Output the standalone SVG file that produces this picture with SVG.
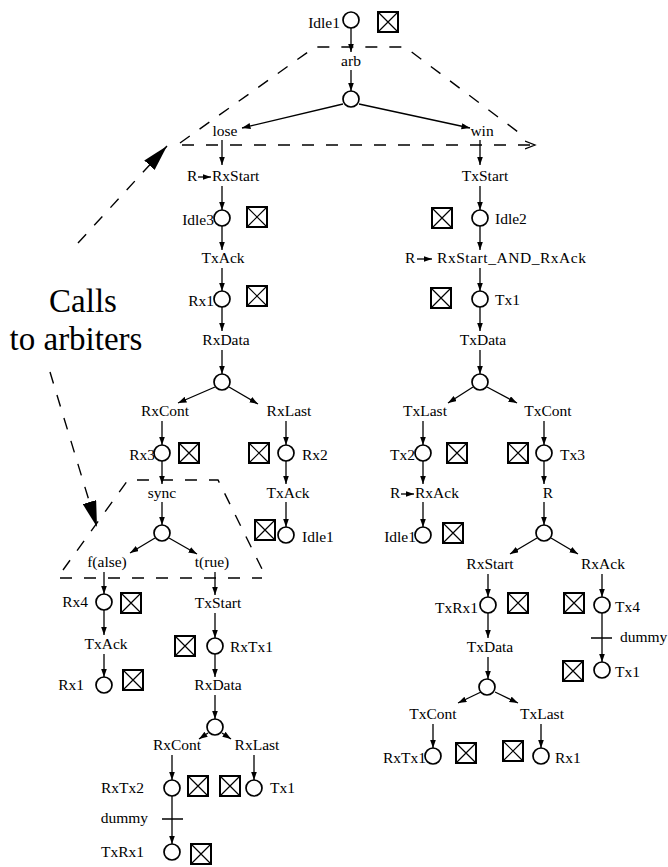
<svg xmlns="http://www.w3.org/2000/svg" width="668" height="867" viewBox="0 0 668 867" font-family="'Liberation Serif', 'DejaVu Serif', serif">
  <style>
    text { font-family: 'Liberation Serif', 'DejaVu Serif', serif; font-size: 15.5px; fill: #000; }
    .big { font-size: 33px; }
    .mid { text-anchor: middle; }
    .end { text-anchor: end; }
    .st { fill: #fff; stroke: #000; stroke-width: 1.7; }
    .e { stroke: #000; stroke-width: 1.3; fill: none; marker-end: url(#ah); }
    .dash { stroke: #000; stroke-width: 1.4; fill: none; stroke-dasharray: 12 12; }
    .bar { stroke: #000; stroke-width: 1.5; }
  </style>
  <defs>
    <marker id="ah" markerUnits="userSpaceOnUse" markerWidth="9" markerHeight="7" refX="8.5" refY="3" orient="auto">
      <path d="M0,0 L8.5,3 L0,6 z" fill="#000"/>
    </marker>
    <marker id="big" markerUnits="userSpaceOnUse" markerWidth="27" markerHeight="14" refX="26" refY="7" orient="auto">
      <path d="M0,0 L26,7 L0,14 z" fill="#000"/>
    </marker>
    <marker id="open" markerUnits="userSpaceOnUse" markerWidth="12" markerHeight="10" refX="10" refY="5" orient="auto">
      <path d="M0,1 L10,5 L0,9" fill="none" stroke="#000" stroke-width="1.3"/>
    </marker>
    <g id="box">
      <rect x="0" y="0" width="20" height="20" fill="#fff" stroke="#000" stroke-width="2"/>
      <path d="M0,0 L20,20 M20,0 L0,20" stroke="#000" stroke-width="1.2"/>
    </g>
  </defs>

  <!-- arbiter call regions -->
  <g id="regions">
    <polyline class="dash" points="180,143 315,47 405,47 522,135"/>
    <line class="dash" x1="182" y1="145" x2="535" y2="145" marker-end="url(#open)"/>
    <polyline class="dash" points="63,570 128,480 218,480 265,575"/>
    <line class="dash" x1="60" y1="578" x2="262" y2="578"/>
    <line class="dash" x1="78" y1="243" x2="167" y2="146" marker-end="url(#big)"/>
    <line class="dash" x1="50" y1="372" x2="97" y2="527" marker-end="url(#big)"/>
    <text class="big mid" x="83" y="312">Calls</text>
    <text class="big mid" x="76" y="350">to arbiters</text>
  </g>

  <!-- connectors -->
  <g id="connectors">
    <line class="e" x1="351" y1="28" x2="351" y2="52"/>
    <line class="e" x1="351" y1="70" x2="351" y2="91"/>
    <line class="e" x1="343" y1="104" x2="242" y2="128"/>
    <line class="e" x1="359" y1="104" x2="470" y2="128"/>
    <!-- lose branch -->
    <line class="e" x1="222" y1="140" x2="222" y2="165"/>
    <line class="e" x1="198" y1="177" x2="211" y2="177"/>
    <line class="e" x1="222" y1="186" x2="222" y2="210"/>
    <line class="e" x1="222" y1="226" x2="222" y2="250"/>
    <line class="e" x1="222" y1="268" x2="222" y2="291"/>
    <line class="e" x1="222" y1="307" x2="222" y2="331"/>
    <line class="e" x1="222" y1="350" x2="222" y2="374"/>
    <line class="e" x1="215" y1="387" x2="178" y2="403"/>
    <line class="e" x1="229" y1="387" x2="258" y2="404"/>
    <line class="e" x1="162" y1="421" x2="162" y2="445"/>
    <line class="e" x1="286" y1="421" x2="286" y2="445"/>
    <line class="e" x1="162" y1="461" x2="162" y2="484"/>
    <line class="e" x1="286" y1="461" x2="286" y2="484"/>
    <line class="e" x1="286" y1="502" x2="286" y2="527"/>
    <line class="e" x1="162" y1="502" x2="162" y2="525"/>
    <line class="e" x1="155" y1="538" x2="130" y2="553"/>
    <line class="e" x1="169" y1="538" x2="197" y2="554"/>
    <line class="e" x1="104" y1="572" x2="104" y2="594"/>
    <line class="e" x1="104" y1="610" x2="104" y2="635"/>
    <line class="e" x1="104" y1="654" x2="104" y2="677"/>
    <line class="e" x1="215" y1="572" x2="215" y2="595"/>
    <line class="e" x1="215" y1="613" x2="215" y2="638"/>
    <line class="e" x1="215" y1="654" x2="215" y2="677"/>
    <line class="e" x1="215" y1="695" x2="215" y2="719"/>
    <line class="e" x1="208" y1="733" x2="199" y2="739"/>
    <line class="e" x1="222" y1="733" x2="231" y2="739"/>
    <line class="e" x1="172" y1="755" x2="172" y2="780"/>
    <line class="e" x1="254" y1="755" x2="254" y2="780"/>
    <line class="e" x1="172" y1="796" x2="172" y2="844"/>
    <!-- win branch -->
    <line class="e" x1="480" y1="140" x2="480" y2="165"/>
    <line class="e" x1="480" y1="186" x2="480" y2="210"/>
    <line class="e" x1="480" y1="226" x2="480" y2="250"/>
    <line class="e" x1="417" y1="259" x2="432" y2="259"/>
    <line class="e" x1="480" y1="268" x2="480" y2="291"/>
    <line class="e" x1="480" y1="307" x2="480" y2="331"/>
    <line class="e" x1="480" y1="350" x2="480" y2="374"/>
    <line class="e" x1="473" y1="387" x2="448" y2="403"/>
    <line class="e" x1="487" y1="387" x2="517" y2="403"/>
    <line class="e" x1="423" y1="421" x2="423" y2="445"/>
    <line class="e" x1="544" y1="421" x2="544" y2="445"/>
    <line class="e" x1="423" y1="461" x2="423" y2="484"/>
    <line class="e" x1="401" y1="494" x2="414" y2="494"/>
    <line class="e" x1="423" y1="502" x2="423" y2="527"/>
    <line class="e" x1="544" y1="461" x2="544" y2="484"/>
    <line class="e" x1="544" y1="502" x2="544" y2="525"/>
    <line class="e" x1="537" y1="538" x2="510" y2="554"/>
    <line class="e" x1="551" y1="538" x2="578" y2="554"/>
    <line class="e" x1="488" y1="574" x2="488" y2="597"/>
    <line class="e" x1="602" y1="574" x2="602" y2="597"/>
    <line class="e" x1="602" y1="613" x2="602" y2="662"/>
    <line class="e" x1="488" y1="613" x2="488" y2="638"/>
    <line class="e" x1="488" y1="657" x2="488" y2="679"/>
    <line class="e" x1="481" y1="692" x2="458" y2="703"/>
    <line class="e" x1="495" y1="692" x2="518" y2="703"/>
    <line class="e" x1="433" y1="724" x2="433" y2="748"/>
    <line class="e" x1="541" y1="724" x2="541" y2="748"/>
    <!-- dummy transitions -->
    <line class="bar" x1="162" y1="819" x2="183" y2="819"/>
    <line class="bar" x1="591" y1="638" x2="612" y2="638"/>
  </g>

  <!-- states -->
  <g id="s-idle1-top"><circle class="st" cx="351" cy="20" r="8"/><text class="end" x="340" y="28">Idle1</text><use href="#box" x="378" y="12"/></g>
  <g id="t-arb"><text class="mid" x="351" y="66">arb</text></g>
  <g id="c-arb"><circle class="st" cx="351" cy="99" r="8"/></g>
  <g id="t-lose"><text class="mid" x="225" y="136">lose</text></g>
  <g id="t-win"><text class="mid" x="482" y="136">win</text></g>

  <g id="t-rxstart"><text x="187" y="181">R</text><text x="212" y="181">RxStart</text></g>
  <g id="s-idle3"><circle class="st" cx="222" cy="218" r="8"/><text class="end" x="214" y="225">Idle3</text><use href="#box" x="247" y="207"/></g>
  <g id="t-txack-1"><text class="mid" x="223" y="263">TxAck</text></g>
  <g id="s-rx1-a"><circle class="st" cx="222" cy="299" r="8"/><text class="end" x="214" y="306">Rx1</text><use href="#box" x="247" y="286"/></g>
  <g id="t-rxdata-1"><text class="mid" x="226" y="345">RxData</text></g>
  <g id="c-rxdata-1"><circle class="st" cx="222" cy="382" r="8"/></g>
  <g id="t-rxcont-1"><text class="mid" x="165" y="416">RxCont</text></g>
  <g id="t-rxlast-1"><text class="mid" x="289" y="416">RxLast</text></g>
  <g id="s-rx3"><circle class="st" cx="162" cy="453" r="8"/><text class="end" x="155" y="460">Rx3</text><use href="#box" x="179" y="443"/></g>
  <g id="s-rx2"><circle class="st" cx="286" cy="453" r="8"/><text x="302" y="460">Rx2</text><use href="#box" x="249" y="443"/></g>
  <g id="t-sync"><text class="mid" x="162" y="498">sync</text></g>
  <g id="t-txack-2"><text class="mid" x="288" y="498">TxAck</text></g>
  <g id="c-sync"><circle class="st" cx="162" cy="533" r="8"/></g>
  <g id="s-idle1-b"><circle class="st" cx="286" cy="535" r="8"/><text x="302" y="542">Idle1</text><use href="#box" x="255" y="520"/></g>
  <g id="t-false"><text class="mid" x="107" y="567">f(alse)</text></g>
  <g id="t-true"><text class="mid" x="212" y="567">t(rue)</text></g>

  <g id="s-rx4"><circle class="st" cx="104" cy="602" r="8"/><text class="end" x="88" y="607">Rx4</text><use href="#box" x="121" y="593"/></g>
  <g id="t-txack-3"><text class="mid" x="106" y="649">TxAck</text></g>
  <g id="s-rx1-b"><circle class="st" cx="104" cy="685" r="8"/><text class="end" x="84" y="690">Rx1</text><use href="#box" x="123" y="670"/></g>

  <g id="t-txstart-2"><text class="mid" x="218" y="608">TxStart</text></g>
  <g id="s-rxtx1-a"><circle class="st" cx="215" cy="646" r="8"/><text x="230" y="652">RxTx1</text><use href="#box" x="175" y="636"/></g>
  <g id="t-rxdata-2"><text class="mid" x="218" y="690">RxData</text></g>
  <g id="c-rxdata-2"><circle class="st" cx="215" cy="727" r="8"/></g>
  <g id="t-rxcont-2"><text class="mid" x="177" y="750">RxCont</text></g>
  <g id="t-rxlast-2"><text class="mid" x="257" y="750">RxLast</text></g>
  <g id="s-rxtx2"><circle class="st" cx="172" cy="788" r="8"/><text class="end" x="144" y="793">RxTx2</text><use href="#box" x="188" y="776"/></g>
  <g id="s-tx1-a"><circle class="st" cx="254" cy="788" r="8"/><text x="270" y="793">Tx1</text><use href="#box" x="220" y="776"/></g>
  <g id="t-dummy-1"><text class="end" x="148" y="823">dummy</text></g>
  <g id="s-txrx1-a"><circle class="st" cx="172" cy="852" r="8"/><text class="end" x="144" y="857">TxRx1</text><use href="#box" x="191" y="844"/></g>

  <g id="t-txstart-1"><text class="mid" x="485" y="181">TxStart</text></g>
  <g id="s-idle2"><circle class="st" cx="480" cy="218" r="8"/><text x="495" y="224">Idle2</text><use href="#box" x="432" y="208"/></g>
  <g id="t-rxstart-and-rxack"><text x="405" y="263">R</text><text x="437" y="263" textLength="149" lengthAdjust="spacing">RxStart_AND_RxAck</text></g>
  <g id="s-tx1-b"><circle class="st" cx="480" cy="299" r="8"/><text x="495" y="305">Tx1</text><use href="#box" x="431" y="288"/></g>
  <g id="t-txdata-1"><text class="mid" x="483" y="345">TxData</text></g>
  <g id="c-txdata-1"><circle class="st" cx="480" cy="382" r="8"/></g>
  <g id="t-txlast-1"><text class="mid" x="425" y="416">TxLast</text></g>
  <g id="t-txcont-1"><text class="mid" x="548" y="416">TxCont</text></g>
  <g id="s-tx2"><circle class="st" cx="423" cy="453" r="8"/><text class="end" x="415" y="460">Tx2</text><use href="#box" x="447" y="443"/></g>
  <g id="s-tx3"><circle class="st" cx="544" cy="453" r="8"/><text x="560" y="460">Tx3</text><use href="#box" x="508" y="443"/></g>
  <g id="t-rxack-1"><text x="390" y="498">R</text><text x="415" y="498">RxAck</text></g>
  <g id="t-r"><text class="mid" x="548" y="498">R</text></g>
  <g id="s-idle1-c"><circle class="st" cx="423" cy="535" r="8"/><text class="end" x="416" y="542">Idle1</text><use href="#box" x="443" y="523"/></g>
  <g id="c-r"><circle class="st" cx="544" cy="533" r="8"/></g>
  <g id="t-rxstart-2"><text class="mid" x="490" y="569">RxStart</text></g>
  <g id="t-rxack-2"><text class="mid" x="603" y="569">RxAck</text></g>
  <g id="s-txrx1-b"><circle class="st" cx="488" cy="605" r="8"/><text class="end" x="478" y="613">TxRx1</text><use href="#box" x="508" y="593"/></g>
  <g id="s-tx4"><circle class="st" cx="602" cy="605" r="8"/><text x="615" y="612">Tx4</text><use href="#box" x="564" y="593"/></g>
  <g id="t-dummy-2"><text x="620" y="642">dummy</text></g>
  <g id="s-tx1-c"><circle class="st" cx="602" cy="670" r="8"/><text x="615" y="677">Tx1</text><use href="#box" x="563" y="661"/></g>
  <g id="t-txdata-2"><text class="mid" x="490" y="652">TxData</text></g>
  <g id="c-txdata-2"><circle class="st" cx="487" cy="687" r="8"/></g>
  <g id="t-txcont-2"><text class="mid" x="433" y="719">TxCont</text></g>
  <g id="t-txlast-2"><text class="mid" x="542" y="719">TxLast</text></g>
  <g id="s-rxtx1-b"><circle class="st" cx="433" cy="756" r="8"/><text class="end" x="426" y="763">RxTx1</text><use href="#box" x="456" y="743"/></g>
  <g id="s-rx1-c"><circle class="st" cx="541" cy="756" r="8"/><text x="555" y="763">Rx1</text><use href="#box" x="503" y="741"/></g>
</svg>
